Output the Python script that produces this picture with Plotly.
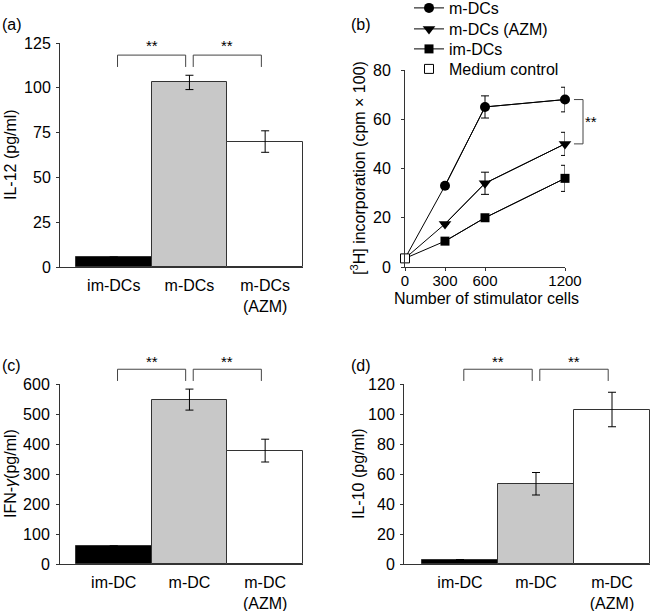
import plotly.graph_objects as go

# ---------------- data ----------------
# (a) IL-12
a_labels = ["im-DCs", "m-DCs", "m-DCs<br>(AZM)"]
a_values = [5.5, 103, 70]
a_err = [0, 4, 6]

# (b) MLR proliferation
b_cells = [0, 300, 600, 1200]
b_mdc = [3.5, 33, 65, 68]
b_mdc_err = [0, 0, 4.5, 5]
b_azm = [3.5, 17.5, 34, 50]
b_azm_err = [0, 0, 4.5, 4.7]
b_imdc = [3.5, 10.5, 20, 36]
b_imdc_err = [0, 0, 0, 5.3]
b_medium_x = [0]
b_medium = [3.5]

# (c) IFN-gamma
c_labels = ["im-DC", "m-DC", "m-DC<br>(AZM)"]
c_values = [60, 548, 378]
c_err = [0, 35, 38]

# (d) IL-10
d_labels = ["im-DC", "m-DC", "m-DC<br>(AZM)"]
d_values = [3, 53.5, 103]
d_err = [0, 7.5, 11.5]

bar_colors = ["black", "#c8c8c8", "white"]
FONT = "Liberation Sans, Arial, Helvetica, sans-serif"
W, H = 650, 611
AX = "#333333"


def px(x):
    return x / W


def py(y):
    return 1 - y / H


fig = go.Figure()


def add_bars(values, err, xa, ya):
    fig.add_trace(go.Bar(
        x=list(range(len(values))), y=values, width=1,
        marker=dict(color=bar_colors, line=dict(color=AX, width=1)),
        error_y=dict(type="data", array=err, color="black", thickness=1, width=4),
        xaxis=xa, yaxis=ya, showlegend=False,
    ))


add_bars(a_values, a_err, "x", "y")
add_bars(c_values, c_err, "x3", "y3")
add_bars(d_values, d_err, "x4", "y4")

# (b) lines
line = dict(color="black", width=1)
series = [
    ("m-DCs", b_mdc, b_mdc_err, "circle", 10, "legend"),
    ("m-DCs (AZM)", b_azm, b_azm_err, "triangle-down", 11, "legend2"),
    ("im-DCs", b_imdc, b_imdc_err, "square", 9, "legend3"),
]
for name, vals, err, sym, size, lg in series:
    # full line including the origin (medium control) point
    fig.add_trace(go.Scatter(
        x=b_cells, y=vals, mode="lines", line=line, showlegend=False,
        xaxis="x2", yaxis="y2", hoverinfo="skip",
    ))
    # stimulated points with markers and error bars
    fig.add_trace(go.Scatter(
        x=b_cells[1:], y=vals[1:], name=name, mode="lines+markers",
        line=line, legend=lg,
        marker=dict(symbol=sym, size=size, color="black"),
        error_y=dict(type="data", array=err[1:], color="black", thickness=1, width=4),
        xaxis="x2", yaxis="y2", cliponaxis=False,
    ))
fig.add_trace(go.Scatter(
    x=b_medium_x, y=b_medium, name="Medium control", mode="markers", legend="legend4",
    marker=dict(symbol="square", size=9, color="white", line=dict(color="black", width=1)),
    xaxis="x2", yaxis="y2", cliponaxis=False,
))

# ---------------- axes ----------------
tickfont = dict(family=FONT, size=16, color="black")


def cat_xaxis(domain, rng, labels):
    return dict(domain=domain, range=rng, tickvals=list(range(len(labels))), ticktext=labels,
                showline=True, linecolor=AX, linewidth=1, ticks="", showgrid=False,
                zeroline=False, tickfont=tickfont, ticklabelstandoff=4, fixedrange=True,
                automargin=False)


def num_yaxis(domain, rng, dtick, anchor, standoff=2):
    return dict(domain=domain, range=rng, dtick=dtick, anchor=anchor, showline=True,
                linecolor=AX, linewidth=1, ticks="outside", ticklen=3, tickcolor=AX,
                showgrid=False, zeroline=False, tickfont=tickfont, automargin=False,
                ticklabelstandoff=standoff)


top_dom_a = [py(267), py(43)]
top_dom_b = [py(267), py(70)]
bot_dom = [py(564), py(384)]

fig.update_layout(
    xaxis=dict(cat_xaxis([px(60), px(303)], [-0.71, 2.5], a_labels), anchor="y"),
    yaxis=num_yaxis(top_dom_a, [0, 125], 25, "x", 2),
    xaxis2=dict(domain=[px(405), px(565)], range=[0, 1200], tickvals=[0, 300, 600, 1200],
                anchor="y2", showline=True, linecolor=AX, linewidth=1, ticks="outside",
                ticklen=3, tickcolor=AX, showgrid=False, zeroline=False,
                tickfont=dict(family=FONT, size=15, color="black"),
                automargin=False, ticklabelstandoff=-3),
    yaxis2=num_yaxis(top_dom_b, [0, 80], 20, "x2", 7),
    xaxis3=dict(cat_xaxis([px(60), px(303)], [-0.71, 2.5], c_labels), anchor="y3"),
    yaxis3=num_yaxis(bot_dom, [0, 600], 100, "x3", 3),
    xaxis4=dict(cat_xaxis([px(404), px(650)], [-0.737, 2.5], d_labels), anchor="y4"),
    yaxis4=num_yaxis(bot_dom, [0, 120], 20, "x4", 2),
)

# ---------------- brackets ----------------
shapes = []
annotations = []
brk_color = "#444444"


def brackets(xa, ya, top, bottom, star_y):
    for (i, j) in [(0, 1), (1, 2)]:
        x0, x1 = i + 0.05, j - 0.05
        shapes.append(dict(type="path", xref=xa, yref=ya + " domain",
                           path=f"M {x0},{bottom} L {x0},{top} L {x1},{top} L {x1},{bottom}",
                           line=dict(color=brk_color, width=1)))
        annotations.append(dict(text="**", x=(i + j) / 2, y=star_y, xref=xa, yref=ya + " domain",
                                showarrow=False, font=dict(family=FONT, size=15, color="black"),
                                xanchor="center", yanchor="middle"))


brackets("x", "y", 0.946, 0.893, 0.99)
brackets("x3", "y3", 1.082, 1.017, 1.124)
brackets("x4", "y4", 1.082, 1.017, 1.124)

# (b) significance between m-DCs and m-DCs (AZM) at 1200
sx0, sx1 = 1.056, 1.1125
shapes.append(dict(type="path", xref="x2 domain", yref="y2",
                   path=f"M {sx0},{b_mdc[-1]} L {sx1},{b_mdc[-1]} L {sx1},{b_azm[-1]} L {sx0},{b_azm[-1]}",
                   line=dict(color=brk_color, width=1)))
annotations.append(dict(text="**", x=1.21, y=(b_mdc[-1] + b_azm[-1]) / 2, xref="x2 domain", yref="y2",
                        showarrow=False, font=dict(family=FONT, size=15, color="black")))

# axis titles
ytitles = [
    ("IL-12 (pg/ml)", 10, 155),
    ("[<sup>3</sup>H] incorporation (cpm × 100)", 358, 168),
    ("IFN-<i>γ</i>(pg/ml)", 10, 474),
    ("IL-10 (pg/ml)", 358, 474),
]
for t, x, y in ytitles:
    annotations.append(dict(text=t, x=px(x), y=py(y), xref="paper", yref="paper", textangle=-90,
                            showarrow=False, xanchor="center", yanchor="middle",
                            font=dict(family=FONT, size=16, color="black")))
annotations.append(dict(text="Number of stimulator cells", x=px(486), y=py(299), xref="paper", yref="paper",
                        showarrow=False, xanchor="center", yanchor="middle",
                        font=dict(family=FONT, size=16, color="black")))

# panel letters
for t, x, y in [("(a)", 0, 25), ("(b)", 349, 25), ("(c)", 0, 365), ("(d)", 349, 365)]:
    annotations.append(dict(text=t, x=px(x), y=py(y), xref="paper", yref="paper", showarrow=False,
                            xanchor="left", yanchor="middle", font=dict(family=FONT, size=16, color="black")))

legend_style = dict(xanchor="left", yanchor="middle", bgcolor="rgba(0,0,0,0)",
                    font=dict(family=FONT, size=16, color="black"), itemsizing="trace",
                    borderwidth=0)
legend_rows = {"legend": 8, "legend2": 29, "legend3": 49, "legend4": 69}

fig.update_layout(
    width=W, height=H, margin=dict(l=0, r=0, t=0, b=0, autoexpand=False),
    paper_bgcolor="white", plot_bgcolor="white",
    font=dict(family=FONT, size=16, color="black"),
    shapes=shapes, annotations=annotations,
    showlegend=True,
    bargap=0,
)
for lg, ypix in legend_rows.items():
    fig.update_layout({lg: dict(legend_style, x=px(409), y=py(ypix))})

fig.write_html("out.html", config={"displayModeBar": False},
               post_script="document.body.style.margin='0px';")
